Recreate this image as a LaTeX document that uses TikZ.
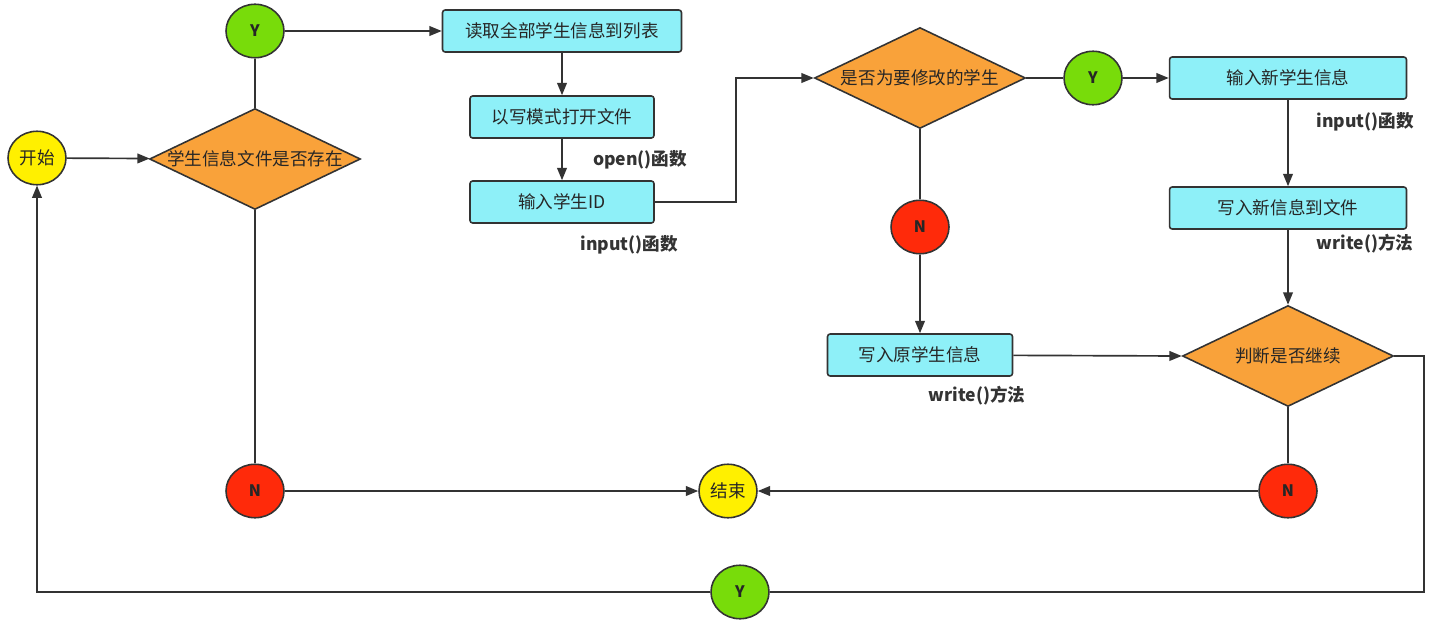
\documentclass[tikz,border=0pt]{standalone}
\usepackage{fontspec}
\setmainfont{Noto Sans CJK SC}
\usetikzlibrary{shapes.geometric,arrows.meta}
\definecolor{boxcyan}{HTML}{8EF0F8}
\definecolor{decorange}{HTML}{F9A23A}
\definecolor{termyellow}{HTML}{FFF000}
\definecolor{yesgreen}{HTML}{78DC0A}
\definecolor{nored}{HTML}{FF2A0A}
\definecolor{linegray}{HTML}{333333}
\tikzset{
  box/.style={draw=linegray, fill=boxcyan, rounded corners=1.5pt, line width=0.9pt, minimum height=0.84cm, inner sep=0pt},
  decision/.style={diamond, draw=linegray, fill=decorange, line width=0.9pt, minimum width=4.22cm, minimum height=2.02cm, inner sep=0pt},
  term/.style={ellipse, draw=linegray, line width=0.9pt, minimum width=1.16cm, minimum height=1.07cm, inner sep=0pt},
  yes/.style={term, fill=yesgreen, font=\fontsize{9}{10}\selectfont\bfseries},
  no/.style={term, fill=nored, font=\fontsize{9}{10}\selectfont\bfseries},
  note/.style={font=\fontsize{10}{12}\selectfont\bfseries, text=black!80},
  line/.style={draw=linegray, line width=0.95pt},
  arr/.style={line, -{Triangle[length=7pt,width=5.5pt]}}
}
\begin{document}
\begin{tikzpicture}[x=0.02cm, y=-0.02cm, font=\fontsize{10}{12}\selectfont, text=black!85]
    \useasboundingbox (0,0) rectangle (1439,632);
    % 开始 / 结束
    \node[term, fill=termyellow] (start) at (37,158) {开始};
    \node[term, fill=termyellow] (stop) at (728,491) {结束};
    % 判断
    \node[decision, label=center:{学生信息文件是否存在}] (d1) at (255,159) {};
    \node[decision, label=center:{是否为要修改的学生}] (d2) at (920,78) {};
    \node[decision, label=center:{判断是否继续}] (d3) at (1288,356) {};
    % Y / N
    \node[yes] (y1) at (255,31) {Y};
    \node[yes] (y2) at (1093,78) {Y};
    \node[yes] (y3) at (740,592) {Y};
    \node[no] (n1) at (255,491) {N};
    \node[no] (n2) at (920,227) {N};
    \node[no] (n3) at (1288,491) {N};
    % 处理步骤
    \node[box, minimum width=4.78cm] (readall) at (562,31) {读取全部学生信息到列表};
    \node[box, minimum width=3.68cm] (openfile) at (562,117) {以写模式打开文件};
    \node[box, minimum width=3.68cm] (inputid) at (562,202) {输入学生ID};
    \node[box, minimum width=4.74cm] (inputnew) at (1288,78) {输入新学生信息};
    \node[box, minimum width=4.74cm] (writenew) at (1288,208) {写入新信息到文件};
    \node[box, minimum width=3.70cm] (writeold) at (920,355) {写入原学生信息};
    % 说明
    \node[note] (openfn) at (640,160) {open()函数};
    \node[note] (inputfn1) at (629,245) {input()函数};
    \node[note] (inputfn2) at (1365,122) {input()函数};
    \node[note] (writefn1) at (1365,244) {write()方法};
    \node[note] (writefn2) at (977,396) {write()方法};
    % 连线
    \draw[arr] (start) -- (d1);
    \draw[line] (d1) -- (y1);
    \draw[arr] (y1) -- (readall);
    \draw[arr] (readall) -- (openfile);
    \draw[arr] (openfile) -- (inputid);
    \draw[arr] (inputid.east) -- ++(81,0) |- (d2.west);
    \draw[line] (d2) -- (y2);
    \draw[arr] (y2) -- (inputnew);
    \draw[arr] (inputnew) -- (writenew);
    \draw[arr] (writenew) -- (d3.north);
    \draw[line] (d2) -- (n2);
    \draw[arr] (n2) -- (writeold);
    \draw[arr] (writeold) -- (d3.west);
    \draw[line] (d3) -- (n3);
    \draw[arr] (n3) -- (stop);
    \draw[line] (d1) -- (n1);
    \draw[arr] (n1) -- (stop);
    \draw[line] (d3.east) -- ++(30,0) |- (y3.east);
    \draw[arr] (y3.west) -| (start.south);
\end{tikzpicture}
\end{document}
